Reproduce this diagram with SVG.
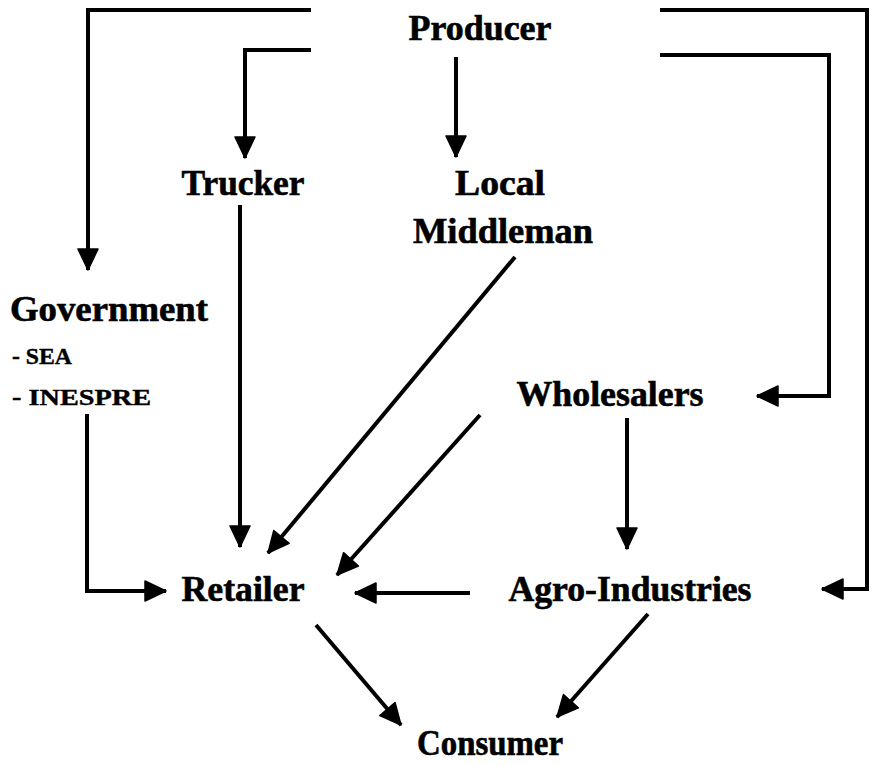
<svg xmlns="http://www.w3.org/2000/svg" width="873" height="766" viewBox="0 0 873 766">
  <style>
    .lbl { font-family: "Liberation Serif", "Times New Roman", serif; font-weight: bold; font-size: 35px; fill: #000; stroke: #000; stroke-width: 0.6; text-anchor: middle; }
    .sub { font-family: "Liberation Serif", "Times New Roman", serif; font-weight: bold; font-size: 24px; fill: #000; stroke: #000; stroke-width: 0.4; }
    .flow { fill: none; stroke: #000; stroke-width: 4; stroke-linejoin: miter; marker-end: url(#head); }
  </style>
  <defs>
    <!-- solid triangular arrowhead, tip at the path end -->
    <marker id="head" markerUnits="userSpaceOnUse" markerWidth="24" markerHeight="24" viewBox="0 0 24 24" refX="22" refY="12" orient="auto">
      <path d="M1,2 L22,12 L1,22 Z" fill="#000" stroke="#000" stroke-width="1.5" stroke-linejoin="round"/>
    </marker>
  </defs>
  <rect width="873" height="766" fill="#fff"/>

  <g id="connectors">
    <!-- Producer to Government -->
    <path class="flow" d="M311,10 H88 V270"/>
    <!-- Producer to Trucker -->
    <path class="flow" d="M311,50 H245 V158"/>
    <!-- Producer to Local Middleman -->
    <path class="flow" d="M456,57 V157"/>
    <!-- Producer to Agro-Industries -->
    <path class="flow" d="M660,10 H867 V589 H822"/>
    <!-- Producer to Wholesalers -->
    <path class="flow" d="M660,55 H829 V396 H757"/>
    <!-- Trucker to Retailer -->
    <path class="flow" d="M240,205 V547"/>
    <!-- Local Middleman to Retailer -->
    <path class="flow" d="M515,257 L268,553"/>
    <!-- Wholesalers to Retailer -->
    <path class="flow" d="M480,415 L337,575"/>
    <!-- Government to Retailer -->
    <path class="flow" d="M87,414 V591 H166"/>
    <!-- Agro-Industries to Retailer -->
    <path class="flow" d="M470,593 H355"/>
    <!-- Wholesalers to Agro-Industries -->
    <path class="flow" d="M627,418 V549"/>
    <!-- Retailer to Consumer -->
    <path class="flow" d="M316,625 L401,725"/>
    <!-- Agro-Industries to Consumer -->
    <path class="flow" d="M648,614 L557,717"/>
  </g>

  <g id="producer"><text class="lbl" x="480" y="40" textLength="143" lengthAdjust="spacingAndGlyphs">Producer</text></g>
  <g id="trucker"><text class="lbl" x="243" y="195" textLength="123" lengthAdjust="spacingAndGlyphs">Trucker</text></g>
  <g id="local-middleman">
    <text class="lbl" x="500" y="195" textLength="90" lengthAdjust="spacingAndGlyphs">Local</text>
    <text class="lbl" x="503" y="243" textLength="180" lengthAdjust="spacingAndGlyphs">Middleman</text>
  </g>
  <g id="government">
    <text class="lbl" x="109" y="321" textLength="198" lengthAdjust="spacingAndGlyphs">Government</text>
    <text class="sub" x="12" y="364" textLength="60" lengthAdjust="spacingAndGlyphs">- SEA</text>
    <text class="sub" x="12" y="405" textLength="139" lengthAdjust="spacingAndGlyphs">- INESPRE</text>
  </g>
  <g id="wholesalers"><text class="lbl" x="610" y="406" textLength="187" lengthAdjust="spacingAndGlyphs">Wholesalers</text></g>
  <g id="retailer"><text class="lbl" x="243" y="601" textLength="123" lengthAdjust="spacingAndGlyphs">Retailer</text></g>
  <g id="agro-industries"><text class="lbl" x="630" y="601" textLength="243" lengthAdjust="spacingAndGlyphs">Agro-Industries</text></g>
  <g id="consumer"><text class="lbl" x="490" y="755" textLength="146" lengthAdjust="spacingAndGlyphs">Consumer</text></g>
</svg>
